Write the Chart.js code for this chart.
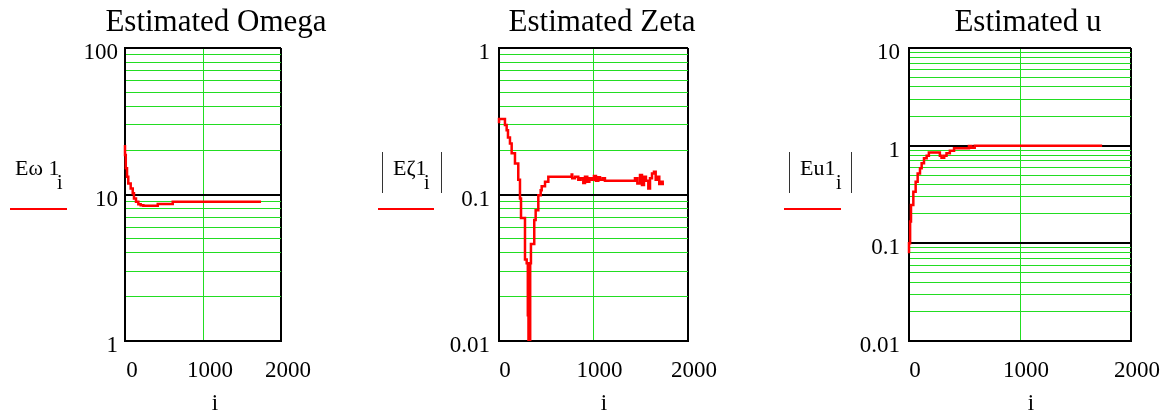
<!DOCTYPE html>
<html>
<head>
<meta charset="utf-8">
<script src="https://cdn.jsdelivr.net/npm/chart.js@4.4.1/dist/chart.umd.min.js"></script>
<style>
  body { margin: 0; width: 1170px; height: 413px; position: relative; overflow: hidden; background: #fff;
         font-family: "Liberation Serif", "Times New Roman", serif; color: #000; }
  canvas { position: absolute; top: 0; }
  .t { position: absolute; line-height: 1; white-space: nowrap; }
  .title { font-size: 31px; top: 5px; transform: translateX(-50%); }
  .xname { font-size: 23px; top: 391px; transform: translateX(-50%); }
  .lab { font-size: 22px; top: 157px; }
  .sub { font-size: 20px; top: 172px; }
  .bar { position: absolute; width: 1px; top: 152px; height: 41px; background: #333; }
  .key { position: absolute; height: 2px; top: 208px; background: #ff0000; }
</style>
</head>
<body>
<canvas id="c1" width="320" height="413" style="left:0px"></canvas>
<canvas id="c2" width="340" height="413" style="left:390px"></canvas>
<canvas id="c3" width="390" height="413" style="left:780px"></canvas>

<div class="t title" style="left:216px">Estimated Omega</div>
<div class="t title" style="left:602px">Estimated Zeta</div>
<div class="t title" style="left:1028px">Estimated u</div>

<div class="t xname" style="left:215px">i</div>
<div class="t xname" style="left:604px">i</div>
<div class="t xname" style="left:1031px">i</div>

<!-- legend keys -->
<div class="t lab" style="left:15px">Eω 1</div>
<div class="t sub" style="left:57px">i</div>
<div class="key" style="left:10px;width:57px"></div>

<div class="bar" style="left:382px"></div>
<div class="t lab" style="left:393px">Eζ1</div>
<div class="t sub" style="left:424px">i</div>
<div class="bar" style="left:441px"></div>
<div class="key" style="left:378px;width:56px"></div>

<div class="bar" style="left:789px"></div>
<div class="t lab" style="left:800px">Eu1</div>
<div class="t sub" style="left:836px">i</div>
<div class="bar" style="left:851px"></div>
<div class="key" style="left:784px;width:57px"></div>

<script>
// x axis (sample index i)
const xTickVals = [0, 1000, 2000];
const xTickText = ['0', '1000', '2000'];

// Estimated Omega
const omegaI = [0, 10, 26, 42, 73, 99, 115, 141, 171, 201, 235, 278, 420, 430, 612, 622, 1744];
const omegaV = [21.8, 18.6, 15.1, 13.2, 11.9, 11.0, 10.2, 9.4, 8.93, 8.57, 8.45, 8.39, 8.39, 8.61, 8.61, 8.93, 8.93];
const omegaTickVals = [1, 10, 100];
const omegaTickText = ['1', '10', '100'];

// Estimated Zeta (abs)
const zetaI = [0, 35, 63, 81, 95, 116, 134, 169, 204, 222, 233, 275, 293, 305, 312, 322, 330, 338,
  373, 388, 416, 441, 452, 487, 522, 550, 769, 775, 804, 839, 864, 892, 910, 934, 956, 981,
  1005, 1026, 1051, 1069, 1097, 1121, 1139, 1439, 1464, 1492, 1513, 1534, 1555, 1580, 1598,
  1619, 1640, 1658, 1675, 1696, 1714, 1732, 1746];
const zetaV = [0.306, 0.328, 0.328, 0.298, 0.275, 0.245, 0.223, 0.191, 0.163, 0.126, 0.094, 0.069, 0.036, 0.034, 0.015, 0.006, 0.006, 0.034,
  0.046, 0.067, 0.078, 0.099, 0.107, 0.114, 0.122, 0.132, 0.132, 0.137, 0.129, 0.132, 0.126, 0.129, 0.120, 0.132, 0.122, 0.129,
  0.126, 0.134, 0.124, 0.131, 0.126, 0.129, 0.124, 0.124, 0.129, 0.119, 0.136, 0.116, 0.132, 0.124, 0.110,
  0.129, 0.139, 0.143, 0.126, 0.132, 0.118, 0.122, 0.118];
const zetaTickVals = [0.01, 0.1, 1];
const zetaTickText = ['0.01', '0.1', '1'];

// Estimated u (abs)
const uI = [0, 10, 18, 39, 60, 78, 99, 114, 135, 159, 179, 204, 278, 293, 317, 338, 368, 406, 457, 540, 562, 592, 622, 1740];
const uV = [0.079, 0.1, 0.167, 0.247, 0.338, 0.428, 0.52, 0.587, 0.66, 0.743, 0.79, 0.85, 0.85, 0.79, 0.754, 0.79, 0.835, 0.889, 0.94, 0.94, 0.99, 0.95, 1.0, 1.0];
const uTickVals = [0.01, 0.1, 1, 10];
const uTickText = ['0.01', '0.1', '1', '10'];

const FONT = 'Liberation Serif';
const GREEN = '#22dd22';

function isDecade(v) {
  const l = Math.log10(v);
  return Math.abs(l - Math.round(l)) < 1e-6;
}

// 1..9 x 10^k lines between the decades
function logGrid(min, max) {
  const out = [];
  for (let e = Math.round(Math.log10(min)); e < Math.round(Math.log10(max)); e++) {
    for (let m = 1; m < 10; m++) out.push(m * Math.pow(10, e));
  }
  out.push(max);
  return out;
}

function makePanel(id, xs, ys, tickVals, tickText, yWidth, padRight, yPad, xOff) {
  const pts = xs.map((x, k) => ({ x: x, y: ys[k] }));
  const yMin = tickVals[0];
  const yMax = tickVals[tickVals.length - 1];
  new Chart(document.getElementById(id), {
    type: 'line',
    data: {
      datasets: [{
        data: pts,
        borderColor: '#ff0000',
        borderWidth: 2.5,
        pointRadius: 0,
        stepped: 'after',
        clip: { left: 3, right: 3, top: 0, bottom: 0 }
      }]
    },
    options: {
      responsive: false,
      animation: false,
      layout: { padding: { left: 0, right: padRight, top: 48, bottom: 0 } },
      plugins: { legend: { display: false }, tooltip: { enabled: false } },
      scales: {
        x: {
          type: 'linear',
          min: xTickVals[0],
          max: xTickVals[xTickVals.length - 1],
          afterBuildTicks: (scale) => { scale.ticks = xTickVals.map(v => ({ value: v })); },
          afterFit: (scale) => { scale.height = 72; },
          ticks: {
            autoSkip: false,
            maxRotation: 0,
            padding: 16,
            labelOffset: xOff,
            color: '#000',
            font: { family: FONT, size: 23 },
            callback: (v) => xTickText[xTickVals.indexOf(v)]
          },
          grid: {
            drawTicks: false,
            color: (ctx) => ctx.tick && ctx.tick.value === 1000 ? GREEN : '#000',
            lineWidth: (ctx) => ctx.tick && ctx.tick.value === 1000 ? 1 : 2
          },
          border: { display: true, color: '#000', width: 2 }
        },
        y: {
          type: 'logarithmic',
          min: yMin,
          max: yMax,
          afterBuildTicks: (scale) => { scale.ticks = logGrid(yMin, yMax).map(v => ({ value: v })); },
          afterFit: (scale) => { scale.width = yWidth; },
          ticks: {
            autoSkip: false,
            padding: yPad,
            labelOffset: 5,
            color: '#000',
            font: { family: FONT, size: 23 },
            callback: (v) => {
              if (!isDecade(v)) return '';
              const k = tickVals.findIndex(t => Math.abs(Math.log10(t) - Math.log10(v)) < 1e-6);
              return k >= 0 ? tickText[k] : '';
            }
          },
          grid: {
            drawTicks: false,
            color: (ctx) => ctx.tick && isDecade(ctx.tick.value) ? '#000' : GREEN,
            lineWidth: (ctx) => ctx.tick && isDecade(ctx.tick.value) ? 2 : 1
          },
          border: { display: true, color: '#000', width: 2 }
        }
      }
    }
  });
}

makePanel('c1', omegaI, omegaV, omegaTickVals, omegaTickText, 125, 39, 7, 7);
makePanel('c2', zetaI, zetaV, zetaTickVals, zetaTickText, 109, 42, 9, 6);
makePanel('c3', uI, uV, uTickVals, uTickText, 129, 38, 9, 6);
</script>
</body>
</html>
